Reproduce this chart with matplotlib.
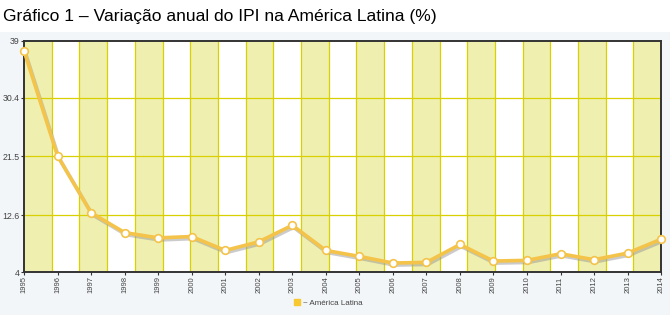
import numpy as np
import matplotlib
matplotlib.use("Agg")
import matplotlib.pyplot as plt
import matplotlib.patheffects as pe
from matplotlib.lines import Line2D
from matplotlib.patches import Rectangle

plt.rcParams['font.family'] = ['Liberation Sans', 'DejaVu Sans']

anos = list(range(1995, 2015))
ipi = [37.5, 21.6, 13.0, 10.0, 9.2, 9.4, 7.3, 8.6, 11.1, 7.3,
       6.4, 5.4, 5.5, 8.2, 5.7, 5.8, 6.8, 5.9, 6.9, 9.0]
yticks = [4, 12.6, 21.5, 30.4, 39]
serie = 'América Latina'
titulo = 'Gráfico 1 – Variação anual do IPI na América Latina (%)'

fig = plt.figure(figsize=(6.7, 3.15), dpi=100)
fig.patch.set_facecolor('white')
# painel de fundo do grafico
fig.patches.append(Rectangle((0, 0), 1, 0.9, transform=fig.transFigure,
                             facecolor='#f3f6f9', edgecolor='none', zorder=-5))
fig.text(0.004, 0.925, titulo, fontsize=12.6, color='black', va='bottom')

ax = fig.add_axes([0.0358, 0.1356, 0.951, 0.7352])
ax.set_facecolor('white')
ax.set_xlim(anos[0], anos[-1])
ax.set_ylim(4, 39)

# faixas alternadas do fundo
nbands = 23
bw = (anos[-1] - anos[0]) / nbands
for i in range(nbands):
    x0 = anos[0] + i * bw
    if i % 2 == 0:
        ax.axvspan(x0, x0 + bw, color='#efefb0', lw=0, zorder=0)
    if i > 0:
        ax.axvline(x0, color='#d8d000', lw=0.9, zorder=1)
for y in yticks[1:-1]:
    ax.axhline(y, color='#d8d000', lw=0.9, zorder=1)

ax.plot(anos, ipi, color='#f4c34a', lw=2.6, zorder=3,
        path_effects=[pe.SimpleLineShadow(offset=(1, -1.5), shadow_color='#999999', alpha=0.5),
                      pe.Normal()])
ax.plot(anos, ipi, ls='none', marker='o', ms=5.5, mfc='white', mec='#f4c34a',
        mew=1.2, zorder=4, clip_on=False)

ax.set_xticks(anos)
ax.set_xticklabels([str(a) for a in anos], rotation=90, fontsize=5.5, color='#444444')
ax.set_yticks(yticks)
ax.set_yticklabels(['4', '12.6', '21.5', '30.4', '39'], fontsize=6.3, color='#444444')
ax.tick_params(length=2, width=0.8, color='#333333', pad=1)
for s in ax.spines.values():
    s.set_color('#333333')
    s.set_linewidth(1.4)

h = Line2D([], [], ls='none', marker='s', ms=5, mfc='#f7c830', mec='#f7c830')
fig.legend([h], ['~ ' + serie], loc='center', bbox_to_anchor=(0.49, 0.037),
           frameon=False, fontsize=5.8, handlelength=0.6, handletextpad=0.4,
           labelcolor='#444444')

fig.savefig('out.png', dpi=100, facecolor=fig.get_facecolor())
